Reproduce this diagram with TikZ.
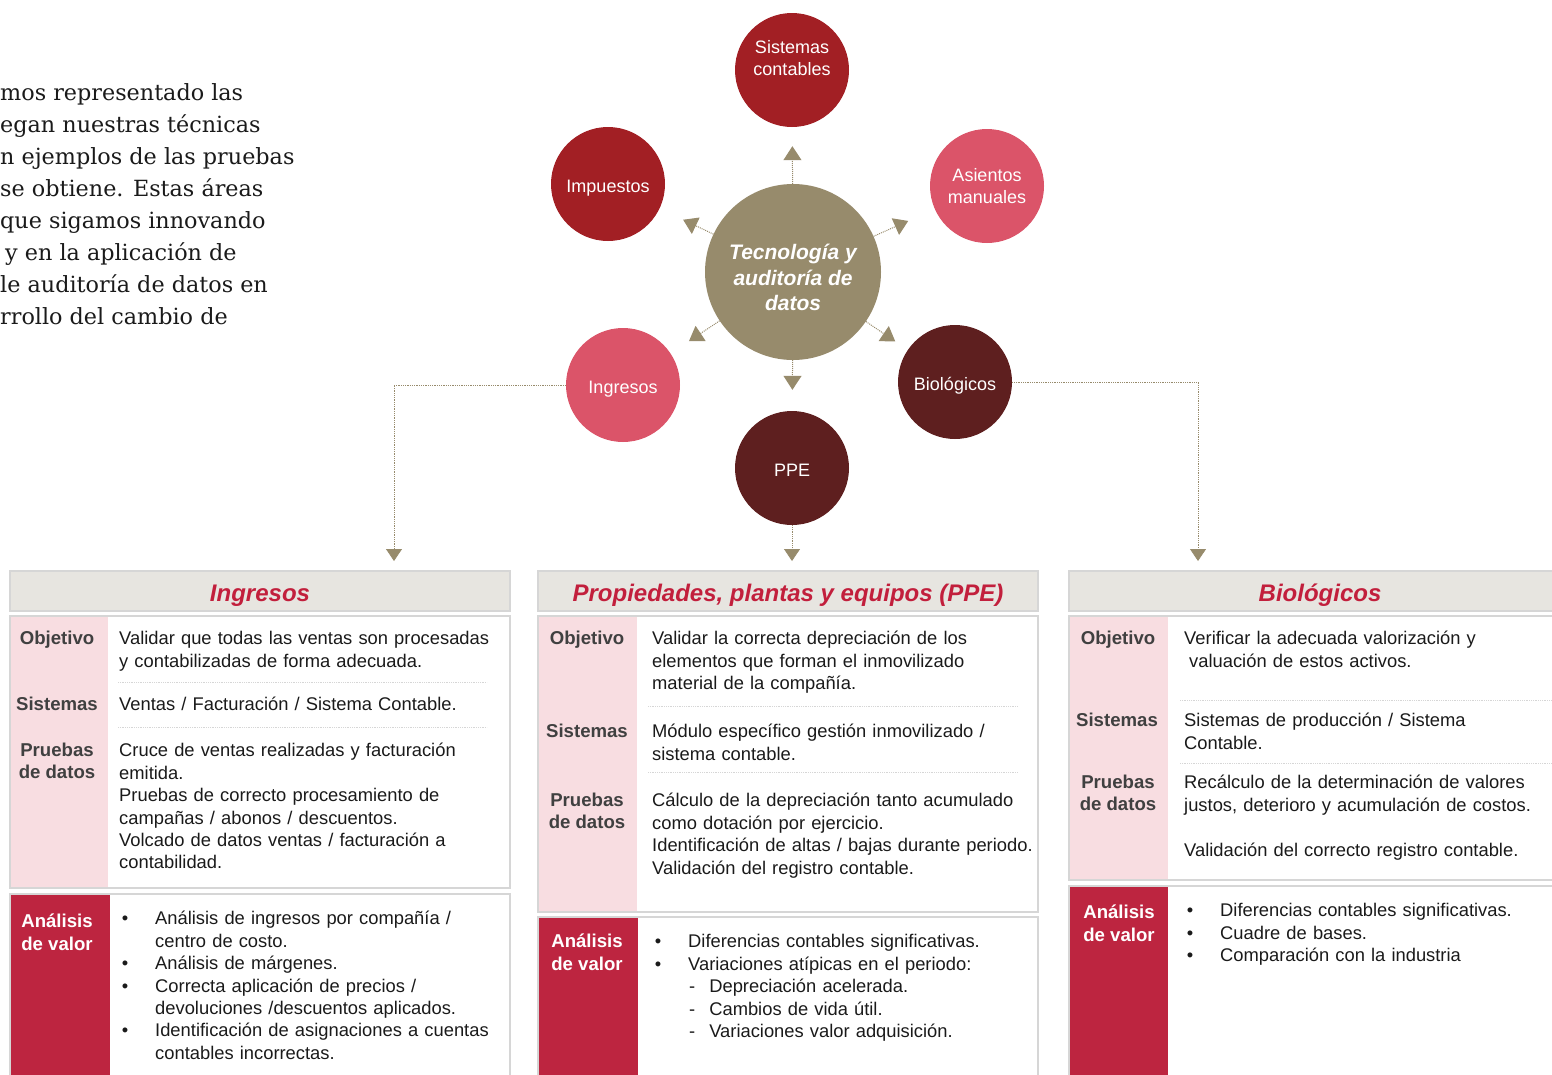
\documentclass[tikz,border=0pt]{standalone}
\usepackage{fontspec}
\setmainfont{Liberation Sans}
\newfontfamily\parafont{DejaVu Serif}
\usetikzlibrary{arrows.meta}

\definecolor{khaki}{RGB}{151,139,108}
\definecolor{crimson}{RGB}{162,31,36}
\definecolor{rose}{RGB}{219,84,105}
\definecolor{maroon}{RGB}{94,31,31}
\definecolor{labelpink}{RGB}{248,221,225}
\definecolor{barred}{RGB}{189,37,64}
\definecolor{titlegrey}{RGB}{231,229,224}
\definecolor{titlered}{RGB}{194,31,60}
\definecolor{labelgrey}{RGB}{64,64,64}
\definecolor{rulegrey}{RGB}{214,214,214}
\definecolor{inkblack}{RGB}{26,26,26}

\newcommand{\dotitem}{\leavevmode\llap{\textbullet\hspace{27pt}}}
\newcommand{\dashitem}{\hspace*{1pt}-\hspace{14pt}}

\tikzset{
	spoke/.style={draw=khaki, densely dotted, line width=1pt, -{Triangle[width=18pt,length=14pt]}},
	drop/.style={draw=khaki, densely dotted, line width=0.8pt, -{Triangle[width=16pt,length=12pt]}},
	titlebar/.style={draw=rulegrey, line width=1.5pt, fill=titlegrey, minimum height=40pt, text height=24pt, text depth=3pt, text=titlered, font=\fontsize{24}{28}\selectfont\bfseries\itshape},
	rowlabel/.style={anchor=north, inner sep=0pt, align=center, text=labelgrey, font=\fontsize{18.6}{22}\selectfont\bfseries},
	vallabel/.style={anchor=north, inner sep=0pt, align=center, text=white, font=\fontsize{18.6}{22.4}\selectfont\bfseries},
	body/.style={anchor=north west, inner sep=0pt, align=left, text=inkblack, font=\fontsize{18.35}{22.4}\selectfont},
	sep/.style={draw=rulegrey, densely dotted, line width=0.8pt}
}

\begin{document}
\begin{tikzpicture}[x=1pt,y=-1pt]
	\useasboundingbox (0,0) rectangle (1552,1074);
	
	\node[anchor=north west, inner sep=0pt, align=left, text=inkblack, font=\parafont\fontsize{22.3}{32}\selectfont] (intro) at (0,78) {\strut mos representado las\\egan nuestras técnicas\\n ejemplos de las pruebas\\se obtiene. Estas áreas\\que sigamos innovando\\\hspace*{5pt}y en la aplicación de\\le auditoría de datos en\\rrollo del cambio de};
	
	\node[circle, fill=khaki, minimum size=176pt, inner sep=0pt, text height=81pt, text depth=4pt, text=white, align=center, font=\fontsize{21}{25.5}\selectfont\bfseries\itshape] (hub) at (793,272) {Tecnología y\\auditoría de\\datos};
	\begin{scope}[every node/.style={circle, minimum size=114pt, inner sep=0pt, text=white, align=center, font=\fontsize{18}{22}\selectfont}]
		\node[fill=crimson, text depth=24pt] (sist) at (792,70) {Sistemas\\contables};
		\node[fill=crimson, text height=21pt, text depth=4pt] (imp) at (608,184) {Impuestos};
		\node[fill=rose] (asi) at (987,186) {Asientos\\manuales};
		\node[fill=rose, text height=21pt, text depth=4pt] (ingc) at (623,385) {Ingresos};
		\node[fill=maroon, text height=21pt, text depth=4pt] (bioc) at (955,382) {Biológicos};
		\node[fill=maroon, text height=21pt, text depth=4pt] (ppec) at (792,468) {PPE};
	\end{scope}
	
	\draw[spoke, shorten >=19pt] (hub) -- (sist);
	\draw[spoke, shorten >=26pt] (hub) -- (imp);
	\draw[spoke, shorten >=29pt] (hub) -- (asi);
	\draw[spoke, shorten >=22pt] (hub) -- (ingc);
	\draw[spoke, shorten >=15pt] (hub) -- (bioc);
	\draw[spoke, shorten >=21pt] (hub) -- (ppec);
	
	\coordinate (ingdrop) at (394,561);
	\coordinate (ppedrop) at (792,561);
	\coordinate (biodrop) at (1198,561);
	\draw[drop] (ingc) -| (ingdrop);
	\draw[drop] (ppec) -- (ppedrop);
	\draw[drop] (bioc) -| (biodrop);
	
	% boxes
	\begin{scope}[line width=1.5pt]
		\fill[labelpink] (10,616) rectangle (108,888);
		\draw[rulegrey] (10,616) rectangle (510,888);
		\fill[barred] (10,894) rectangle (110,1080);
		\draw[rulegrey] (10,894) rectangle (510,1080);
		
		\fill[labelpink] (538,616) rectangle (637,912);
		\draw[rulegrey] (538,616) rectangle (1038,912);
		\fill[barred] (538,917) rectangle (638,1080);
		\draw[rulegrey] (538,917) rectangle (1038,1080);
		
		\fill[labelpink] (1069,616) rectangle (1168,880);
		\draw[rulegrey] (1069,616) rectangle (1575,880);
		\fill[barred] (1069,886) rectangle (1168,1080);
		\draw[rulegrey] (1069,886) rectangle (1575,1080);
	\end{scope}
	
	\node[titlebar, minimum width=500pt] (ingtitle) at (260,591) {Ingresos};
	\node[titlebar, minimum width=500pt] (ppetitle) at (788,591) {Propiedades, plantas y equipos (PPE)};
	\node[titlebar, minimum width=502pt] (biotitle) at (1320,591) {Biológicos};
	
	\draw[sep] (118,682) -- (487,682);
	\draw[sep] (118,727) -- (487,727);
	\draw[sep] (648,706) -- (1018,706);
	\draw[sep] (648,772) -- (1018,772);
	\draw[sep] (1180,700) -- (1552,700);
	\draw[sep] (1180,763) -- (1552,763);
	
	\node[rowlabel] (ingobj) at (57,629) {\strut Objetivo};
	\node[rowlabel] (ingsis) at (57,695) {\strut Sistemas};
	\node[rowlabel] (ingpru) at (57,741) {\strut Pruebas\\de datos};
	\node[vallabel] (ingval) at (57,912) {\strut Análisis\\de valor};
	\node[body, text width=390pt] (ingobjtxt) at (119,629) {\strut Validar que todas las ventas son procesadas\\y contabilizadas de forma adecuada.};
	\node[body, text width=390pt] (ingsistxt) at (119,695) {\strut Ventas / Facturación / Sistema Contable.};
	\node[body, text width=390pt] (ingprutxt) at (119,741) {\strut Cruce de ventas realizadas y facturación\\emitida.\\Pruebas de correcto procesamiento de\\campañas / abonos / descuentos.\\Volcado de datos ventas / facturación a\\contabilidad.};
	\node[body, text width=350pt] (ingvaltxt) at (155,909) {\strut\dotitem Análisis de ingresos por compañía /\\centro de costo.\\\dotitem Análisis de márgenes.\\\dotitem Correcta aplicación de precios /\\devoluciones /descuentos aplicados.\\\dotitem Identificación de asignaciones a cuentas\\contables incorrectas.};
	
	\node[rowlabel] (ppeobj) at (587,629) {\strut Objetivo};
	\node[rowlabel] (ppesis) at (587,722) {\strut Sistemas};
	\node[rowlabel] (ppepru) at (587,791) {\strut Pruebas\\de datos};
	\node[vallabel] (ppeval) at (587,932) {\strut Análisis\\de valor};
	\node[body, text width=395pt] (ppeobjtxt) at (652,629) {\strut Validar la correcta depreciación de los\\elementos que forman el inmovilizado\\material de la compañía.};
	\node[body, text width=395pt] (ppesistxt) at (652,722) {\strut Módulo específico gestión inmovilizado /\\sistema contable.};
	\node[body, text width=395pt] (ppeprutxt) at (652,791) {\strut Cálculo de la depreciación tanto acumulado\\como dotación por ejercicio.\\Identificación de altas / bajas durante periodo.\\Validación del registro contable.};
	\node[body, text width=340pt] (ppevaltxt) at (688,932) {\strut\dotitem Diferencias contables significativas.\\\dotitem Variaciones atípicas en el periodo:\\\dashitem Depreciación acelerada.\\\dashitem Cambios de vida útil.\\\dashitem Variaciones valor adquisición.};
	
	\node[rowlabel] (bioobj) at (1118,629) {\strut Objetivo};
	\node[rowlabel] (biosis) at (1117,711) {\strut Sistemas};
	\node[rowlabel] (biopru) at (1118,773) {\strut Pruebas\\de datos};
	\node[vallabel] (bioval) at (1119,903) {\strut Análisis\\de valor};
	\node[body, text width=370pt] (bioobjtxt) at (1184,629) {\strut Verificar la adecuada valorización y\\\hspace*{5pt}valuación de estos activos.};
	\node[body, text width=370pt] (biosistxt) at (1184,711) {\strut Sistemas de producción / Sistema\\Contable.};
	\node[body, text width=370pt] (bioprutxt) at (1184,773) {\strut Recálculo de la determinación de valores\\justos, deterioro y acumulación de costos.\\[22.4pt]Validación del correcto registro contable.};
	\node[body, text width=330pt] (biovaltxt) at (1220,901) {\strut\dotitem Diferencias contables significativas.\\\dotitem Cuadre de bases.\\\dotitem Comparación con la industria};
\end{tikzpicture}
\end{document}
